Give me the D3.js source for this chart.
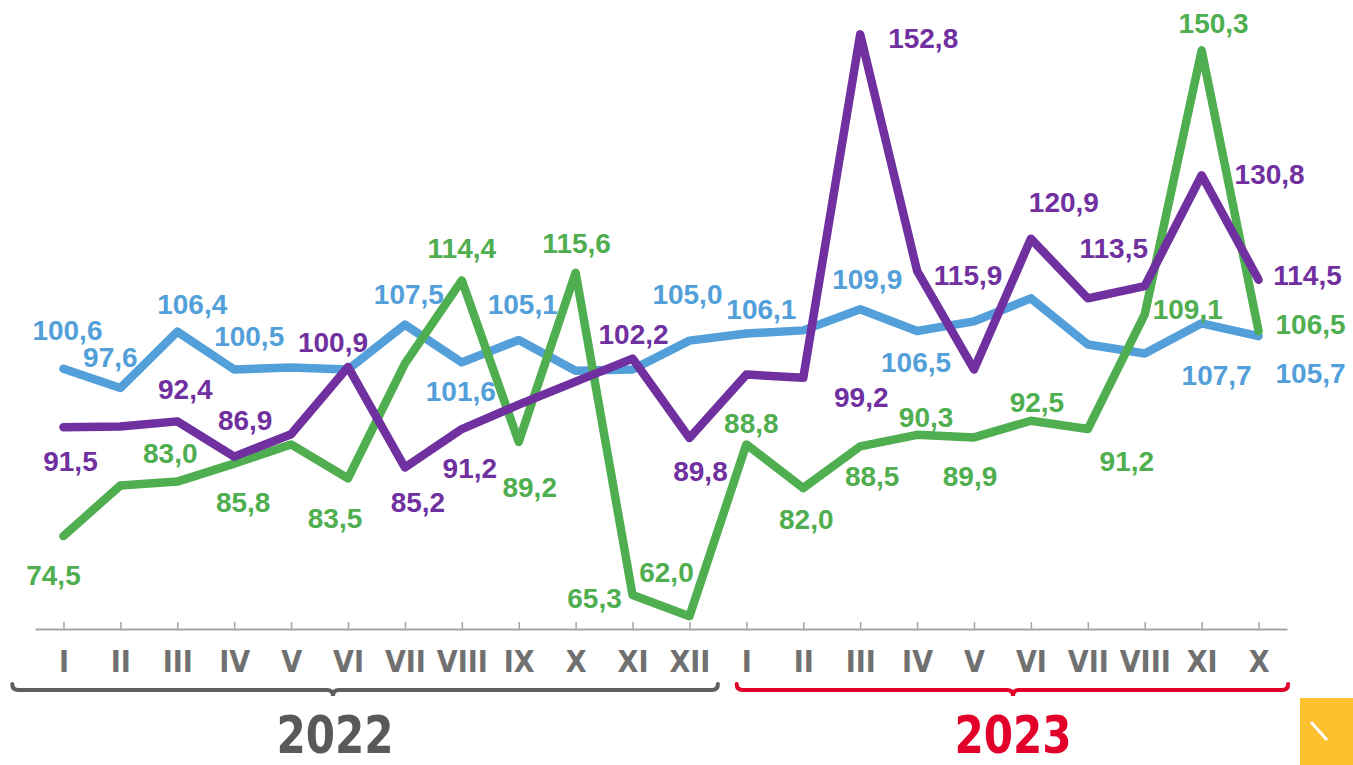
<!DOCTYPE html>
<html>
<head>
<meta charset="utf-8">
<script src="https://cdn.jsdelivr.net/npm/d3@7"></script>
<style>
  html, body { margin: 0; padding: 0; background: #fff; }
  .lbl { font-family: "Liberation Sans", Arial, sans-serif; font-weight: bold; font-size: 28px; }
  .narrow { font-family: "Liberation Sans Narrow", "Arial Narrow", "DejaVu Sans Condensed", sans-serif; font-weight: bold; }
</style>
</head>
<body>
<div class="canvas"></div>
<script>
// months on the x axis (2022: I..XII, 2023: I..X as printed)
const months = ['I','II','III','IV','V','VI','VII','VIII','IX','X','XI','XII',
  'I','II','III','IV','V','VI','VII','VIII','XI','X'];
const years = ['2022', '2023'];

// series values
const blueValues = [100.6, 97.6, 106.4, 100.5, 100.8, 100.5, 107.5, 101.6, 105.1, 100.3, 100.5, 105.0,
  106.1, 106.6, 109.9, 106.5, 108.0, 111.6, 104.4, 103.0, 107.7, 105.7];
const purpleValues = [91.5, 91.6, 92.4, 86.9, 90.4, 100.9, 85.2, 91.2, 95.0, 98.6, 102.2, 89.8,
  99.7, 99.2, 152.8, 115.9, 100.5, 120.9, 111.6, 113.5, 130.8, 114.5];
const greenValues = [74.5, 82.4, 83.0, 85.8, 88.8, 83.5, 101.4, 114.4, 89.2, 115.6, 65.3, 62.0,
  88.8, 82.0, 88.5, 90.3, 89.9, 92.5, 91.2, 109.1, 150.3, 106.5];

// label placement (index -> [dx, dy] from the point)
const blueLabelPos = {0:[4,-29],1:[-10,-21],2:[15,-18],3:[15,-23],6:[4,-21],7:[-1,39],8:[4,-26],
  11:[-2,-37],12:[15,-15],14:[7,-20],15:[-1,41],20:[15,62],21:[52,47]};
const purpleLabelPos = {0:[7,44],2:[8,-22],3:[11,-27],5:[-15,-15],6:[13,44],7:[8,49],10:[1,-15],
  11:[11,43],13:[58,29],14:[63,14],15:[51,14],17:[33,-27],19:[-31,-28],20:[68,9],21:[49,5]};
const greenLabelPos = {0:[-10,49],2:[-7,-19],3:[9,48],5:[-13,50],7:[0,-22],8:[11,55],9:[1,-20],
  10:[-38,13],11:[-23,-34],12:[5,-11],13:[3,41],14:[12,40],15:[9,-8],16:[-4,49],17:[6,-9],
  18:[39,42],19:[43,5],20:[12,-17],21:[52,3]};

const width = 1353, height = 765;

const svg = d3.select('.canvas')
  .append('svg')
  .attr('width', width)
  .attr('height', height);

const x = d3.scalePoint()
  .domain(d3.range(months.length))
  .range([35, 1287])
  .padding(0.5);

const y = d3.scaleLinear()
  .domain([60, 158])
  .range([629, 1]);

// axis
const xAxis = d3.axisBottom(x)
  .tickSizeInner(-7)
  .tickSizeOuter(0)
  .tickPadding(0)
  .tickFormat(i => months[i]);

const xAxisGroup = svg.append('g')
  .attr('transform', `translate(0,${y(60)})`)
  .call(xAxis);

xAxisGroup.select('.domain').attr('stroke', '#a6a6a6').attr('stroke-width', 2);
xAxisGroup.selectAll('.tick line').attr('stroke', '#a6a6a6').attr('stroke-width', 1.5);
xAxisGroup.selectAll('.tick text')
  .attr('class', 'narrow')
  .attr('y', 43)
  .attr('dy', 0)
  .attr('font-size', 30)
  .attr('fill', '#707070');

// series
const series = [
  {name: 'blue', values: blueValues, color: '#529fd9', pos: blueLabelPos},
  {name: 'green', values: greenValues, color: '#4fae4f', pos: greenLabelPos},
  {name: 'purple', values: purpleValues, color: '#7030a0', pos: purpleLabelPos}
];

const line = d3.line()
  .x((d, i) => x(i))
  .y(d => y(d));

series.forEach(s => {
  svg.append('path')
    .datum(s.values)
    .attr('fill', 'none')
    .attr('stroke', s.color)
    .attr('stroke-width', 8.5)
    .attr('stroke-linejoin', 'round')
    .attr('stroke-linecap', 'round')
    .attr('d', line);
});

const fmt = v => d3.format('.1f')(v).replace('.', ',');

series.forEach(s => {
  const labelled = s.values.map((v, i) => ({v, i})).filter(d => s.pos[d.i]);
  svg.append('g').selectAll('text')
    .data(labelled)
    .enter()
    .append('text')
    .attr('class', 'lbl')
    .attr('text-anchor', 'middle')
    .attr('fill', s.color)
    .attr('x', d => x(d.i) + s.pos[d.i][0])
    .attr('y', d => y(d.v) + s.pos[d.i][1])
    .text(d => fmt(d.v));
});

// year braces
const step = x.step();
function brace(x0, x1, xm, yy, color) {
  const r = 6;
  const p = `M${x0},${yy - 6} Q${x0},${yy} ${x0 + r},${yy} L${xm - r},${yy} Q${xm},${yy} ${xm},${yy + 6}` +
    ` Q${xm},${yy} ${xm + r},${yy} L${x1 - r},${yy} Q${x1},${yy} ${x1},${yy - 6}`;
  svg.append('path')
    .attr('d', p)
    .attr('fill', 'none')
    .attr('stroke', color)
    .attr('stroke-width', 4)
    .attr('stroke-linecap', 'round');
}
const braceY = 690;
brace(x(0) - 0.9 * step, x(11) + 0.5 * step, 333, braceY, '#5f5f5f');
brace(x(12) - 0.17 * step, x(21) + 0.52 * step, 1013, braceY, '#e2002b');

svg.selectAll('.year')
  .data(years)
  .enter()
  .append('text')
  .attr('class', 'narrow')
  .attr('text-anchor', 'middle')
  .attr('font-size', 52)
  .attr('transform', (d, i) => `translate(${i === 0 ? 335 : 1013},753) scale(0.9,1)`)
  .attr('fill', (d, i) => i === 0 ? '#595959' : '#e2002b')
  .text(d => d);

// yellow corner button
svg.append('rect')
  .attr('x', 1300).attr('y', 698)
  .attr('width', 53).attr('height', 67)
  .attr('fill', '#fcc12e');
svg.append('line')
  .attr('x1', 1311).attr('y1', 722)
  .attr('x2', 1327).attr('y2', 740)
  .attr('stroke', '#fff')
  .attr('stroke-width', 3);
</script>
</body>
</html>
